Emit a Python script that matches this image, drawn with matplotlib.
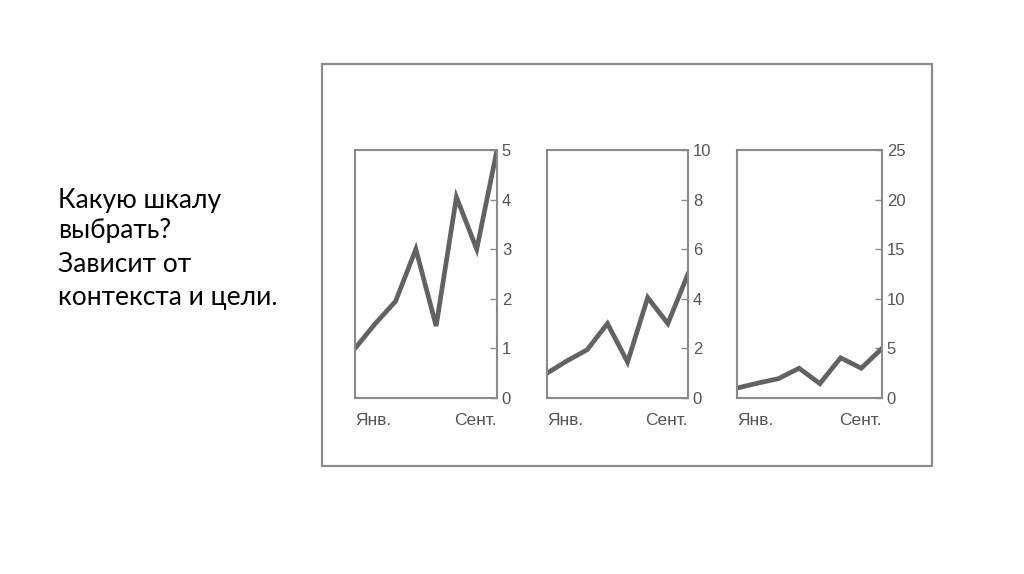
import matplotlib.pyplot as plt
from matplotlib.patches import Rectangle

# data (same series, three different y scales)
months = [0, 1, 2, 3, 4, 5, 6, 7]
values = [1, 1.5, 1.95, 3, 1.45, 4.05, 3, 5]
x_labels = ['Янв.', 'Сент.']
y_limits = [5, 10, 25]
y_ticks = [[0, 1, 2, 3, 4, 5], [0, 2, 4, 6, 8, 10], [0, 5, 10, 15, 20, 25]]
text_lines = ['Какую шкалу', 'выбрать?', 'Зависит от', 'контекста и цели.']

W, H = 1024, 574
fig = plt.figure(figsize=(W / 100, H / 100), dpi=100)
fig.patch.set_facecolor('white')

line_col = '#626262'
spine_col = '#8a8a8a'
text_col = '#555555'

# outer frame
fig.add_artist(Rectangle((322 / W, 1 - 466 / H), (932 - 322) / W, (466 - 64) / H,
                         transform=fig.transFigure, fill=False,
                         edgecolor='#8c8c8c', linewidth=1.6))

# panel boxes in pixels: left, right
panels = [(355, 497), (547, 688), (737, 882)]
top, bottom = 150, 398

for (l, r), ymax, yt in zip(panels, y_limits, y_ticks):
    ax = fig.add_axes([l / W, 1 - bottom / H, (r - l) / W, (bottom - top) / H])
    ax.plot(months, values, color=line_col, linewidth=3.4, solid_joinstyle='miter')
    ax.set_xlim(months[0], months[-1])
    ax.set_ylim(0, ymax)
    ax.yaxis.tick_right()
    ax.set_yticks(yt)
    ax.tick_params(axis='y', direction='in', length=5, width=1, color=spine_col,
                   labelsize=12, labelcolor=text_col, pad=3.5)
    ax.set_xticks([months[0], months[-1]])
    ax.set_xticklabels(x_labels)
    ax.tick_params(axis='x', length=0, labelsize=12.5, labelcolor=text_col, pad=11)
    xl = ax.get_xticklabels()
    xl[0].set_ha('left')
    xl[1].set_ha('right')
    for lab in ax.get_xticklabels() + ax.get_yticklabels():
        lab.set_fontfamily('Liberation Sans')
    for s in ax.spines.values():
        s.set_color(spine_col)
        s.set_linewidth(1.5)
    ax.set_facecolor('white')

# left text, one line at a time (baselines in pixels)
for txt, yb in zip(text_lines, [208, 238, 272, 305]):
    fig.text(58 / W, 1 - yb / H, txt, fontsize=19, family='Lato',
             va='baseline', ha='left', color='black')

fig.savefig('out.png', dpi=100, facecolor='white')
